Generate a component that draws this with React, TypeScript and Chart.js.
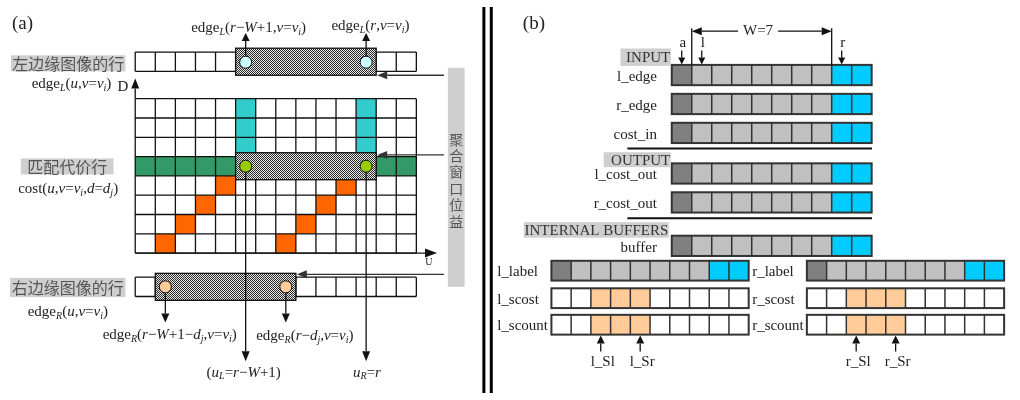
import React, { useEffect, useRef } from 'react';
import { Chart, registerables } from 'chart.js';
Chart.register(...registerables);

// ---------------- data : panel (a) ----------------
const gridColumns = 14;            // pixels u of one image row
const disparityLevels = 8;         // D rows of the cost grid
const windowSize = 7;              // W
const topWindowStart = 5;          // r-W+1 on left edge row
const bottomWindowStart = 1;       // r-W+1-d on right edge row
const cyanColumns = [5, 11];
const cyanRowCount = 3;
const costRowIndex = 3;
const orangeCols = [4, 10, 3, 9, 2, 8, 1, 7];
const orangeRows = [4, 4, 5, 5, 6, 6, 7, 7];
const verticalCaption = ['聚', '合', '窗', '口', '位', '益'];

// ---------------- data : panel (b) ----------------
const bufferNames = ['l_edge', 'r_edge', 'cost_in', 'l_cost_out', 'r_cost_out', 'buffer'];
const bufferCellTypes = [0, 1, 1, 1, 1, 1, 1, 1, 2, 2]; // 0 = a (old), 1 = window, 2 = new (r)
const sectionTitles = ['INPUT', 'OUTPUT', 'INTERNAL BUFFERS'];
const sectionStartRow = [0, 3, 5];
const leftPairNames = ['l_label', 'l_scost', 'l_scount'];
const rightPairNames = ['r_label', 'r_scost', 'r_scount'];
const sumCellCount = 10;
const sumHighlightCols = [2, 3, 4];
const leftPointerNames = ['l_Sl', 'l_Sr'];
const rightPointerNames = ['r_Sl', 'r_Sr'];
const pointerCols = [2, 4];
const topMarkers = ['a', 'l', 'r'];
const topMarkerCols = [0, 1, 8];
const windowLabel = 'W=7';

// ---------------- layout / styles ----------------
const SERIF = '"Liberation Serif", "DejaVu Serif", serif';
const CJK = '"Noto Sans CJK SC", sans-serif';
const A = { x0: 130, cw: 20.36, ch: 20, topY: 46.7, gridY: 95, botY: 280 };
const B = { x0: 674, cw: 20.27, ch: 21, rowsY: [60, 90, 120, 162, 192, 237], lx0: 552, rx0: 811, pcw: 20, pch: 20.5, pairY: [263, 291.5, 319] };

type Seg = { t: string; it: boolean; sub: boolean };
function parseRich(s: string): Seg[] {
  const segs: Seg[] = [];
  let start = 0;
  const m = s.match(/^(edge|cost)/);
  if (m) { segs.push({ t: m[1], it: false, sub: false }); start = m[1].length; }
  for (let i = start; i < s.length; i++) {
    const ch = s[i];
    if (ch === '_') { segs.push({ t: s[i + 1], it: true, sub: true }); i++; continue; }
    segs.push({ t: ch, it: /[A-Za-z]/.test(ch), sub: false });
  }
  return segs;
}

function richText(ctx: CanvasRenderingContext2D, s: string, x: number, y: number, align: 'left' | 'center', size = 15) {
  const segs = parseRich(s);
  const f = (g: Seg) => `${g.it ? 'italic ' : ''}${g.sub ? Math.round(size * 0.65) : size}px ${SERIF}`;
  const ws = segs.map((g) => { ctx.font = f(g); return ctx.measureText(g.t).width; });
  const total = ws.reduce((a, b) => a + b, 0);
  let cx = align === 'center' ? x - total / 2 : x;
  ctx.textAlign = 'left';
  ctx.textBaseline = 'middle';
  ctx.fillStyle = '#222';
  segs.forEach((g, i) => { ctx.font = f(g); ctx.fillText(g.t, cx, y + (g.sub ? 4 : 0)); cx += ws[i]; });
}

function arrow(ctx: CanvasRenderingContext2D, x1: number, y1: number, x2: number, y2: number, color = '#111', lw = 1.3, head = 9, hw = 4) {
  ctx.save();
  ctx.strokeStyle = color; ctx.fillStyle = color; ctx.lineWidth = lw;
  const ang = Math.atan2(y2 - y1, x2 - x1);
  const bx = x2 - head * Math.cos(ang), by = y2 - head * Math.sin(ang);
  ctx.beginPath(); ctx.moveTo(x1, y1); ctx.lineTo(bx, by); ctx.stroke();
  ctx.beginPath(); ctx.moveTo(x2, y2);
  ctx.lineTo(bx - hw * Math.sin(ang), by + hw * Math.cos(ang));
  ctx.lineTo(bx + hw * Math.sin(ang), by - hw * Math.cos(ang));
  ctx.closePath(); ctx.fill();
  ctx.restore();
}

function hatch(ctx: CanvasRenderingContext2D) {
  const c = document.createElement('canvas');
  c.width = 2; c.height = 2;
  const g = c.getContext('2d')!;
  g.fillStyle = '#e8e8e8'; g.fillRect(0, 0, 2, 2);
  g.fillStyle = '#2a2a2a'; g.fillRect(0, 0, 1, 1); g.fillRect(1, 1, 1, 1);
  return ctx.createPattern(c, 'repeat')!;
}

function grayBox(ctx: CanvasRenderingContext2D, x0: number, y0: number, x1: number, y1: number) {
  ctx.fillStyle = '#cfcfcf';
  ctx.fillRect(x0, y0, x1 - x0, y1 - y0);
}

const diagramPlugin = {
  id: 'diagram',
  beforeDatasetsDraw(chart: any) {
    const ctx: CanvasRenderingContext2D = chart.ctx;
    const xs = chart.scales.x, ys = chart.scales.y;
    const X = (v: number) => xs.getPixelForValue(v);
    const Y = (v: number) => ys.getPixelForValue(v);
    const pat = hatch(ctx);
    ctx.save();

    // ===== panel (a) =====
    const colX = (c: number) => X(A.x0 + c * A.cw);
    const cellRect = (c: number, y0: number, h: number) => [colX(c), Y(y0), colX(c + 1) - colX(c), Y(y0 + h) - Y(y0)];
    const gridLines = (y0: number, rows: number, lw: number) => {
      ctx.strokeStyle = '#111'; ctx.lineWidth = lw;
      ctx.beginPath();
      for (let c = 0; c <= gridColumns; c++) { ctx.moveTo(colX(c), Y(y0)); ctx.lineTo(colX(c), Y(y0 + rows * A.ch)); }
      for (let r = 0; r <= rows; r++) { ctx.moveTo(colX(0), Y(y0 + r * A.ch)); ctx.lineTo(colX(gridColumns), Y(y0 + r * A.ch)); }
      ctx.stroke();
    };

    ctx.font = `19px ${SERIF}`; ctx.fillStyle = '#222'; ctx.textBaseline = 'middle'; ctx.textAlign = 'left';
    ctx.fillText('(a)', X(5), Y(18));

    // cost grid
    for (let r = 0; r < cyanRowCount; r++) cyanColumns.forEach((c) => {
      const [x, y, w, h] = cellRect(c, A.gridY + r * A.ch, A.ch); ctx.fillStyle = '#33cccc'; ctx.fillRect(x, y, w, h);
    });
    for (let c = 0; c < gridColumns; c++) {
      const [x, y, w, h] = cellRect(c, A.gridY + costRowIndex * A.ch, A.ch); ctx.fillStyle = '#339966'; ctx.fillRect(x, y, w, h);
    }
    orangeCols.forEach((c, i) => {
      const [x, y, w, h] = cellRect(c, A.gridY + orangeRows[i] * A.ch, A.ch); ctx.fillStyle = '#ff6600'; ctx.fillRect(x, y, w, h);
    });
    gridLines(A.gridY, disparityLevels, 1.3);
    // top & bottom edge rows
    gridLines(A.topY, 1, 1.3);
    gridLines(A.botY, 1, 1.3);

    // hatched aggregation windows
    const win = (start: number, yc: number) => {
      const x0 = colX(start), x1 = colX(start + windowSize);
      ctx.fillStyle = pat; ctx.fillRect(x0, Y(yc - 14), x1 - x0, Y(yc + 14) - Y(yc - 14));
      ctx.strokeStyle = '#111'; ctx.lineWidth = 1.3; ctx.strokeRect(x0, Y(yc - 14), x1 - x0, Y(yc + 14) - Y(yc - 14));
    };
    win(topWindowStart, A.topY + A.ch / 2);
    win(topWindowStart, A.gridY + (costRowIndex + 0.5) * A.ch);
    win(bottomWindowStart, A.botY + A.ch / 2);

    // axes
    arrow(ctx, colX(0), Y(A.gridY), colX(0), Y(74), '#111', 1.3, 10, 4);
    arrow(ctx, colX(0), Y(A.gridY + disparityLevels * A.ch), X(436), Y(A.gridY + disparityLevels * A.ch), '#111', 1.3, 12, 4.5);
    ctx.font = `15px ${SERIF}`; ctx.fillStyle = '#222'; ctx.textAlign = 'left';
    ctx.fillText('D', X(112), Y(83));
    ctx.font = `10px ${SERIF}`; ctx.fillText('U', X(424), Y(265));

    // row labels (gray boxes)
    const cjkBox = (x0: number, y0: number, x1: number, y1: number, t: string) => {
      grayBox(ctx, X(x0), Y(y0), X(x1), Y(y1));
      ctx.font = `16px ${CJK}`; ctx.fillStyle = '#555'; ctx.textAlign = 'center'; ctx.textBaseline = 'middle';
      ctx.fillText(t, X((x0 + x1) / 2), Y((y0 + y1) / 2 + 0.5));
    };
    cjkBox(4, 50, 120, 66.7, '左边缘图像的行');
    cjkBox(14, 157, 108, 173.5, '匹配代价行');
    cjkBox(3, 280.7, 120, 300.7, '右边缘图像的行');

    richText(ctx, 'edge_L(u,v=v_i)', X(25), Y(80), 'left');
    richText(ctx, 'cost(u,v=v_i,d=d_j)', X(62), Y(189), 'center');
    richText(ctx, 'edge_R(u,v=v_i)', X(21), Y(316), 'left');

    // vertical caption bar
    grayBox(ctx, X(447), Y(63), X(464), Y(290));
    ctx.font = `14px ${CJK}`; ctx.fillStyle = '#555'; ctx.textAlign = 'center';
    verticalCaption.forEach((ch, i) => ctx.fillText(ch, X(455.5), Y(137 + i * 17)));
    arrow(ctx, X(443), Y(70.7), colX(topWindowStart + windowSize) + 1, Y(70.7), '#333', 1.3, 10, 4);
    arrow(ctx, X(443), Y(153.3), colX(topWindowStart + windowSize) + 1, Y(153.3), '#333', 1.3, 10, 4);
    arrow(ctx, X(443), Y(277), colX(bottomWindowStart + windowSize) + 1, Y(277), '#333', 1.3, 10, 4);

    // arrows to labels
    const cc = (c: number) => X(A.x0 + (c + 0.5) * A.cw);
    const tL = topWindowStart, tR = topWindowStart + windowSize - 1;
    const bL = bottomWindowStart, bR = bottomWindowStart + windowSize - 1;
    arrow(ctx, cc(tL), Y(51), cc(tL), Y(27), '#111', 1.3, 8, 4);
    arrow(ctx, cc(tR), Y(51), cc(tR), Y(27), '#111', 1.3, 8, 4);
    richText(ctx, 'edge_L(r−W+1,v=v_i)', X(245), Y(22), 'center');
    richText(ctx, 'edge_L(r,v=v_i)', X(368.5), Y(20), 'center');

    arrow(ctx, cc(tL), Y(171), cc(tL), Y(367), '#111', 1.3, 10, 4);
    arrow(ctx, cc(tR), Y(171), cc(tR), Y(367), '#111', 1.3, 10, 4);
    richText(ctx, '(u_L=r−W+1)', X(240), Y(379), 'center');
    richText(ctx, 'u_R=r', X(365), Y(379), 'center');

    arrow(ctx, cc(bL), Y(296), cc(bL), Y(327), '#111', 1.3, 9, 4);
    arrow(ctx, cc(bR), Y(296), cc(bR), Y(327), '#111', 1.3, 9, 4);
    richText(ctx, 'edge_R(r−W+1−d_j,v=v_i)', X(165), Y(340), 'center');
    richText(ctx, 'edge_R(r−d_j,v=v_i)', X(302), Y(341), 'center');

    // divider
    ctx.fillStyle = '#000';
    ctx.fillRect(X(482), Y(0), 3, Y(400) - Y(0));
    ctx.fillRect(X(489.5), Y(0), 3, Y(400) - Y(0));

    // ===== panel (b) =====
    ctx.font = `19px ${SERIF}`; ctx.fillStyle = '#222'; ctx.textAlign = 'left'; ctx.textBaseline = 'middle';
    ctx.fillText('(b)', X(523), Y(18));

    const typeColor = ['#808080', '#c0c0c0', '#00ccff'];
    const drawRow = (x0: number, y0: number, cw: number, ch: number, colors: string[]) => {
      colors.forEach((col, i) => { ctx.fillStyle = col; ctx.fillRect(X(x0 + i * cw), Y(y0), X(x0 + (i + 1) * cw) - X(x0 + i * cw), Y(y0 + ch) - Y(y0)); });
      ctx.strokeStyle = '#333'; ctx.lineWidth = 1.5; ctx.beginPath();
      for (let i = 1; i < colors.length; i++) { ctx.moveTo(X(x0 + i * cw), Y(y0)); ctx.lineTo(X(x0 + i * cw), Y(y0 + ch)); }
      ctx.stroke();
      ctx.lineWidth = 2; ctx.strokeRect(X(x0), Y(y0), X(x0 + colors.length * cw) - X(x0), Y(y0 + ch) - Y(y0));
    };
    const rowColors = bufferCellTypes.map((t) => typeColor[t]);
    bufferNames.forEach((name, i) => {
      const y0 = B.rowsY[i];
      drawRow(B.x0, y0, B.cw, B.ch, rowColors);
      ctx.font = `15px ${SERIF}`; ctx.fillStyle = '#222'; ctx.textAlign = 'right'; ctx.textBaseline = 'middle';
      ctx.fillText(name, X(659), Y(y0 + B.ch / 2 + 2));
    });
    // section titles
    const titleBoxes = [[622, 43, 673, 61], [605, 150.5, 673, 166], [524, 223, 671, 239]];
    sectionTitles.forEach((t, i) => {
      const [x0, y0, x1, y1] = titleBoxes[i];
      grayBox(ctx, X(x0), Y(y0), X(x1), Y(y1));
      ctx.font = `15px ${SERIF}`; ctx.fillStyle = '#333'; ctx.textAlign = 'right'; ctx.textBaseline = 'middle';
      ctx.fillText(t, X(x1 - 0.5), Y((y0 + y1) / 2 + 1));
      void sectionStartRow;
    });
    // separators
    ctx.strokeStyle = '#111'; ctx.lineWidth = 2; ctx.beginPath();
    ctx.moveTo(X(629), Y(146.7)); ctx.lineTo(X(877), Y(146.7));
    ctx.moveTo(X(629), Y(219)); ctx.lineTo(X(877), Y(219));
    ctx.stroke();

    // top markers
    const bc = (c: number) => X(B.x0 + (c + 0.5) * B.cw);
    topMarkers.forEach((m, i) => {
      const x = bc(topMarkerCols[i]);
      ctx.font = `15px ${SERIF}`; ctx.fillStyle = '#222'; ctx.textAlign = 'center'; ctx.textBaseline = 'middle';
      ctx.fillText(m, x + 1, Y(37));
      arrow(ctx, x, Y(45), x, Y(59.5), '#111', 1.3, 7, 3.5);
    });
    const wl = X(B.x0 + 1 * B.cw), wr = X(B.x0 + 8 * B.cw);
    ctx.strokeStyle = '#111'; ctx.lineWidth = 1.3; ctx.beginPath();
    ctx.moveTo(wl, Y(22)); ctx.lineTo(wl, Y(60)); ctx.moveTo(wr, Y(22)); ctx.lineTo(wr, Y(60)); ctx.stroke();
    const wm = X(761.5);
    arrow(ctx, wm - 20, Y(25), wl, Y(25), '#111', 1.3, 10, 4);
    arrow(ctx, wm + 20, Y(25), wr, Y(25), '#111', 1.3, 10, 4);
    ctx.font = `15px ${SERIF}`; ctx.fillStyle = '#222'; ctx.textAlign = 'center';
    ctx.fillText(windowLabel, wm, Y(25));

    // label / scost / scount rows
    const sumColors = Array.from({ length: sumCellCount }, (_, i) => (sumHighlightCols.includes(i) ? '#ffcc99' : '#ffffff'));
    const pair = (x0: number, names: string[], labelX: number, ptrNames: string[]) => {
      names.forEach((n, i) => {
        const y0 = B.pairY[i];
        drawRow(x0, y0, B.pcw, B.pch, i === 0 ? rowColors : sumColors);
        ctx.font = `15px ${SERIF}`; ctx.fillStyle = '#222'; ctx.textAlign = 'left'; ctx.textBaseline = 'middle';
        ctx.fillText(n, X(labelX), Y(y0 + B.pch / 2 + 1.5));
      });
      pointerCols.forEach((c, i) => {
        const x = X(x0 + (c + 0.5) * B.pcw);
        arrow(ctx, x, Y(357), x, Y(340.5), '#111', 1.3, 8, 4);
        ctx.font = `15px ${SERIF}`; ctx.fillStyle = '#222'; ctx.textAlign = 'center'; ctx.textBaseline = 'middle';
        ctx.fillText(ptrNames[i], x + 2, Y(368));
      });
    };
    pair(B.lx0, leftPairNames, 497, leftPointerNames);
    pair(B.rx0, rightPairNames, 755.5, rightPointerNames);

    ctx.restore();
  },
};

export default function App() {
  const ref = useRef<HTMLCanvasElement | null>(null);
  useEffect(() => {
    if (!ref.current) return;
    const cc = (c: number) => A.x0 + (c + 0.5) * A.cw;
    const chart = new Chart(ref.current, {
      type: 'scatter',
      data: {
        datasets: [
          {
            data: [topWindowStart, topWindowStart + windowSize - 1].map((c) => ({ x: cc(c), y: A.topY + A.ch / 2 + 0.5 })),
            backgroundColor: '#ccffff', borderColor: '#111', borderWidth: 1, pointRadius: 6,
          },
          {
            data: [topWindowStart, topWindowStart + windowSize - 1].map((c) => ({ x: cc(c), y: A.gridY + (costRowIndex + 0.5) * A.ch })),
            backgroundColor: '#99cc00', borderColor: '#111', borderWidth: 1, pointRadius: 6,
          },
          {
            data: [bottomWindowStart, bottomWindowStart + windowSize - 1].map((c) => ({ x: cc(c), y: A.botY + A.ch / 2 })),
            backgroundColor: '#ffcc99', borderColor: '#111', borderWidth: 1, pointRadius: 6,
          },
        ],
      },
      options: {
        animation: false,
        responsive: false,
        maintainAspectRatio: false,
        layout: { padding: 0 },
        plugins: { legend: { display: false }, tooltip: { enabled: false } },
        scales: {
          x: { type: 'linear', min: 0, max: 1020, display: false },
          y: { type: 'linear', min: 0, max: 400, reverse: true, display: false },
        },
        elements: { point: { hoverRadius: 6 } },
      },
      plugins: [diagramPlugin as any],
    });
    return () => chart.destroy();
  }, []);
  return (
    <div style={{ position: 'absolute', left: 0, top: 0, width: 1020, height: 400, background: '#fff' }}>
      <canvas ref={ref} width={1020} height={400} style={{ width: 1020, height: 400, display: 'block' }} />
    </div>
  );
}
